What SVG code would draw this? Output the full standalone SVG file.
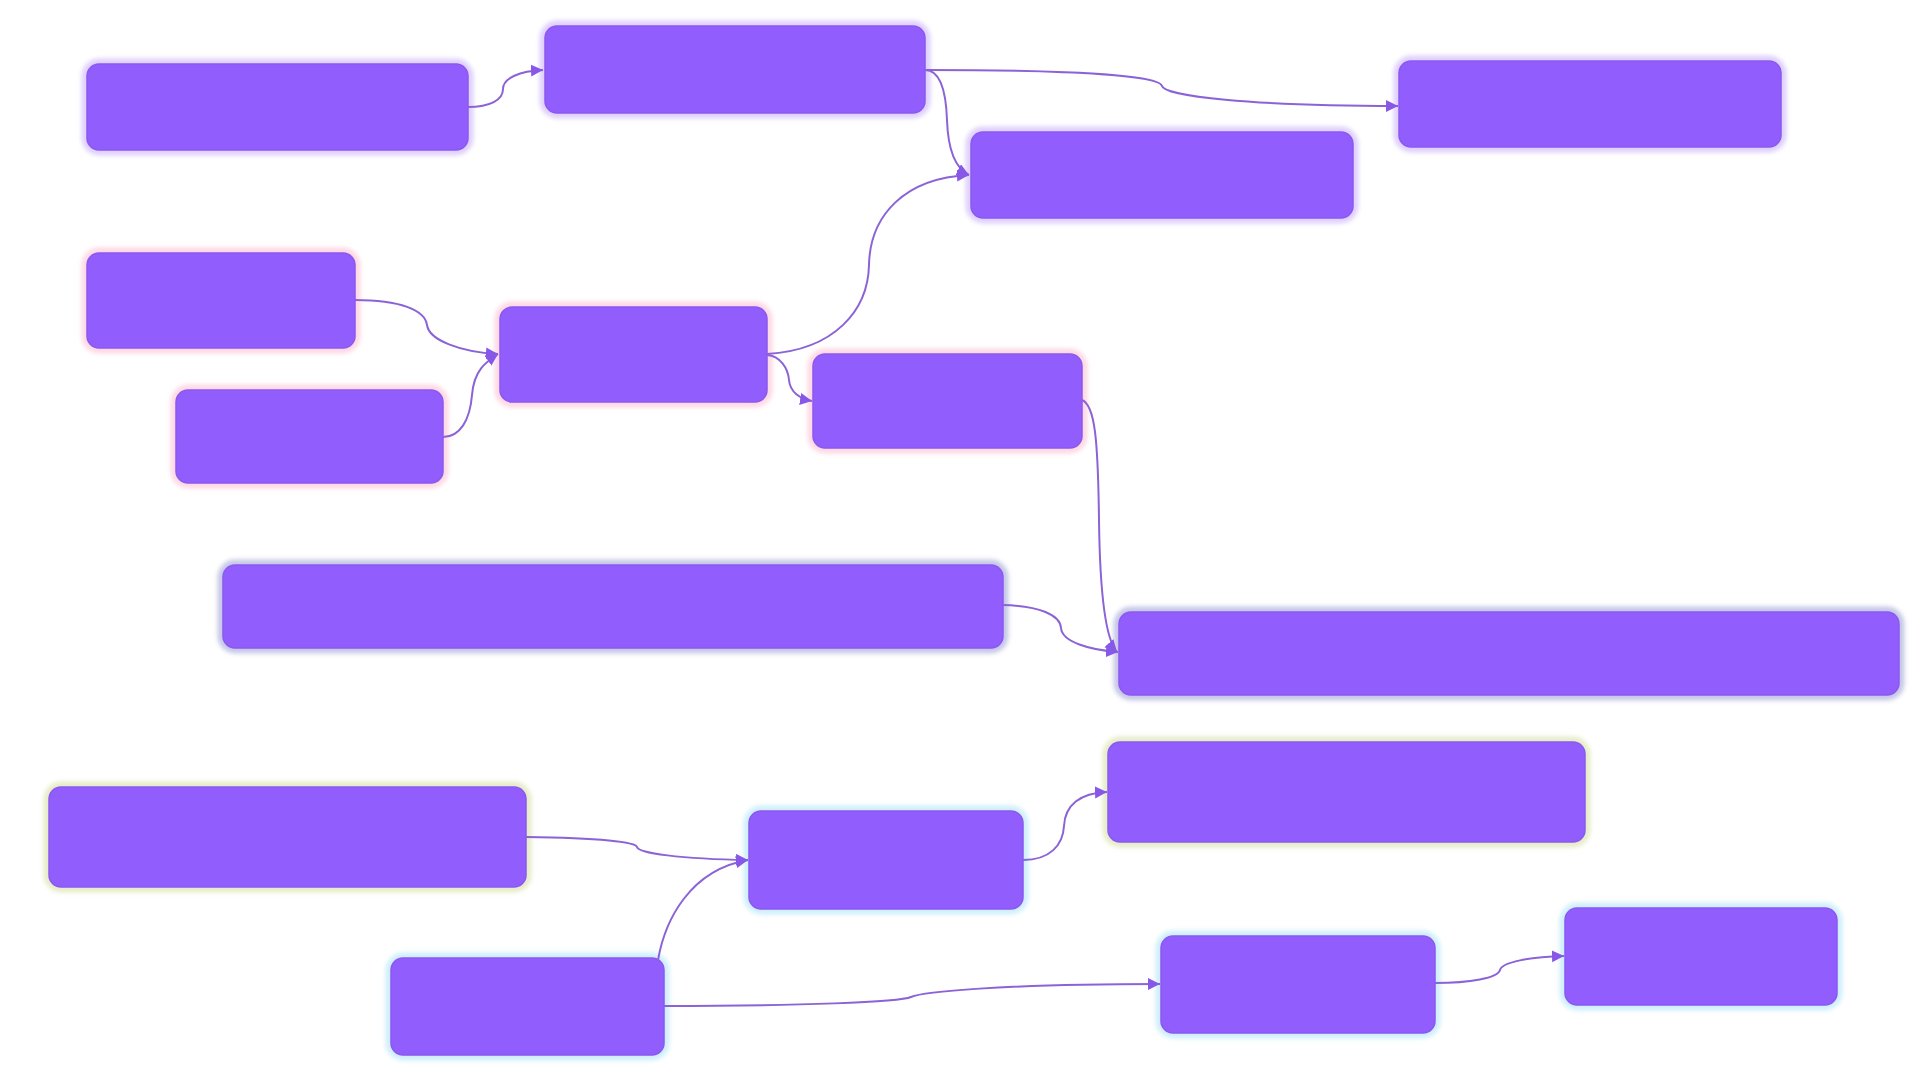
<svg xmlns="http://www.w3.org/2000/svg" width="1922" height="1073" viewBox="0 0 1922 1073">
<defs>
<filter id="blur" x="-10%" y="-30%" width="120%" height="160%"><feGaussianBlur stdDeviation="2"/></filter>
<marker id="arr" markerUnits="userSpaceOnUse" markerWidth="14" markerHeight="13" refX="12" refY="6" orient="auto"><path d="M0,0 L12,6 L0,12 z" fill="#8758e8"/></marker>
<style>
.glow{fill:none;stroke-width:11;filter:url(#blur)}
.g1{stroke:#dfd0fc}.g2{stroke:#fdd8e5}.g3{stroke:#c6c8e7}.g4{stroke:#e6ecc9}.g5{stroke:#cfeffc}
.box{fill:#915dfd;stroke:#8a58f0;stroke-width:1.5}
.edge{fill:none;stroke:#8b63d6;stroke-width:2;marker-end:url(#arr)}
</style>
</defs>
<rect width="1922" height="1073" fill="#ffffff"/>
<g id="n1"><rect class="glow g1" x="87" y="64" width="381" height="86" rx="12"/><rect class="box" x="87" y="64" width="381" height="86" rx="12"/></g>
<g id="n2"><rect class="glow g1" x="545" y="26" width="380" height="87" rx="12"/><rect class="box" x="545" y="26" width="380" height="87" rx="12"/></g>
<g id="n3"><rect class="glow g1" x="1399" y="61" width="382" height="86" rx="12"/><rect class="box" x="1399" y="61" width="382" height="86" rx="12"/></g>
<g id="n4"><rect class="glow g1" x="971" y="132" width="382" height="86" rx="12"/><rect class="box" x="971" y="132" width="382" height="86" rx="12"/></g>
<g id="n5"><rect class="glow g2" x="87" y="253" width="268" height="95" rx="12"/><rect class="box" x="87" y="253" width="268" height="95" rx="12"/></g>
<g id="n6"><rect class="glow g2" x="500" y="307" width="267" height="95" rx="12"/><rect class="box" x="500" y="307" width="267" height="95" rx="12"/></g>
<g id="n7"><rect class="glow g2" x="176" y="390" width="267" height="93" rx="12"/><rect class="box" x="176" y="390" width="267" height="93" rx="12"/></g>
<g id="n8"><rect class="glow g2" x="813" y="354" width="269" height="94" rx="12"/><rect class="box" x="813" y="354" width="269" height="94" rx="12"/></g>
<g id="n9"><rect class="glow g3" x="223" y="565" width="780" height="83" rx="12"/><rect class="box" x="223" y="565" width="780" height="83" rx="12"/></g>
<g id="n10"><rect class="glow g3" x="1119" y="612" width="780" height="83" rx="12"/><rect class="box" x="1119" y="612" width="780" height="83" rx="12"/></g>
<g id="n11"><rect class="glow g4" x="49" y="787" width="477" height="100" rx="12"/><rect class="box" x="49" y="787" width="477" height="100" rx="12"/></g>
<g id="n12"><rect class="glow g4" x="1108" y="742" width="477" height="100" rx="12"/><rect class="box" x="1108" y="742" width="477" height="100" rx="12"/></g>
<g id="n13"><rect class="glow g5" x="749" y="811" width="274" height="98" rx="12"/><rect class="box" x="749" y="811" width="274" height="98" rx="12"/></g>
<g id="n14"><rect class="glow g5" x="391" y="958" width="273" height="97" rx="12"/><rect class="box" x="391" y="958" width="273" height="97" rx="12"/></g>
<g id="n15"><rect class="glow g5" x="1161" y="936" width="274" height="97" rx="12"/><rect class="box" x="1161" y="936" width="274" height="97" rx="12"/></g>
<g id="n16"><rect class="glow g5" x="1565" y="908" width="272" height="97" rx="12"/><rect class="box" x="1565" y="908" width="272" height="97" rx="12"/></g>
<g id="connectors">
<path class="edge" d="M468,107 C490,107 503,100 503,89 C503,78 520,71 543,70"/>
<path class="edge" d="M925,70 C1080,70 1160,76 1162,86 C1164,96 1250,106 1398,106"/>
<path class="edge" d="M925,70 C940,70 946,90 947,120 C948,150 955,168 969,175"/>
<path class="edge" d="M767,354 C835,350 868,310 869,265 C870,215 905,178 969,175"/>
<path class="edge" d="M355,300 C400,300 425,310 427,325 C429,340 460,352 498,354"/>
<path class="edge" d="M443,437 C460,437 470,420 472,395 C474,370 486,362 498,354"/>
<path class="edge" d="M767,355 C780,356 788,368 789,380 C790,392 800,399 812,401"/>
<path class="edge" d="M1082,400 C1095,405 1098,440 1099,520 C1100,600 1106,640 1117,652"/>
<path class="edge" d="M1003,605 C1040,606 1060,615 1061,628 C1062,642 1090,650 1118,652"/>
<path class="edge" d="M526,837 C600,838 636,842 637,847 C638,853 680,859 748,860"/>
<path class="edge" d="M658,960 C665,920 690,870 748,860"/>
<path class="edge" d="M1023,860 C1050,860 1063,845 1064,826 C1065,805 1080,793 1107,792"/>
<path class="edge" d="M664,1006 C800,1006 900,1002 911,997 C922,992 1000,984 1160,984"/>
<path class="edge" d="M1435,983 C1470,983 1498,978 1500,970 C1502,962 1530,957 1564,956"/>
</g>
</svg>
